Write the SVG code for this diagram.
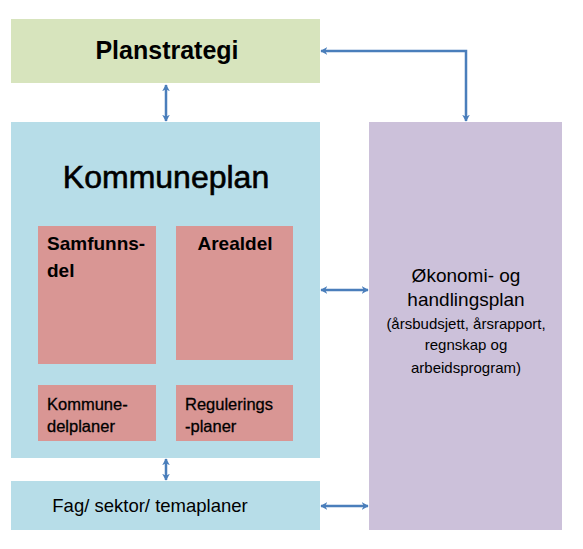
<svg xmlns="http://www.w3.org/2000/svg" width="583" height="549" viewBox="0 0 583 549">
<defs>
<style>
text{font-family:"Liberation Sans",Arial,sans-serif;fill:#000}
.b{font-weight:bold}
.c{stroke:#4a7ebb;stroke-width:2.5;fill:none}
</style>
<marker id="ah" viewBox="0 0 10 12" refX="9" refY="6" markerWidth="7" markerHeight="10" orient="auto-start-reverse" markerUnits="userSpaceOnUse">
<path d="M0,0.5 L10,6 L0,11.5 L3,6 Z" fill="#4a7ebb"/>
</marker>
</defs>
<rect width="583" height="549" fill="#fff"/>
<g id="planstrategi">
<rect x="11" y="19" width="309" height="64" fill="#d7e4bd"/>
<text x="167" y="59" font-size="25" class="b" text-anchor="middle">Planstrategi</text>
</g>
<g id="kommuneplan">
<rect x="11" y="122" width="309" height="336" fill="#b7dde8"/>
<text x="166" y="188" font-size="32" text-anchor="middle" stroke="#000" stroke-width="0.6">Kommuneplan</text>
</g>
<g id="samfunnsdel">
<rect x="38" y="226" width="118" height="138" fill="#d99694"/>
<text x="47" y="250" font-size="19" class="b">Samfunns-</text>
<text x="47" y="277" font-size="19" class="b">del</text>
</g>
<g id="arealdel">
<rect x="176" y="226" width="117" height="134" fill="#d99694"/>
<text x="235" y="250" font-size="19" class="b" text-anchor="middle">Arealdel</text>
</g>
<g id="kommunedelplaner">
<rect x="38" y="385" width="118" height="56" fill="#d99694"/>
<text x="47" y="410" font-size="16.5" stroke="#000" stroke-width="0.3">Kommune-</text>
<text x="47" y="432" font-size="16.5" stroke="#000" stroke-width="0.3">delplaner</text>
</g>
<g id="reguleringsplaner">
<rect x="176" y="385" width="117" height="56" fill="#d99694"/>
<text x="185" y="410" font-size="16.5" stroke="#000" stroke-width="0.3">Regulerings</text>
<text x="185" y="432" font-size="16.5" stroke="#000" stroke-width="0.3">-planer</text>
</g>
<g id="fag">
<rect x="11" y="481" width="309" height="49" fill="#b7dde8"/>
<text x="150" y="512" font-size="18.5" text-anchor="middle">Fag/ sektor/ temaplaner</text>
</g>
<g id="okonomi">
<rect x="369" y="122" width="193" height="408" fill="#ccc1da"/>
<text x="466" y="282" font-size="19" text-anchor="middle">Økonomi- og</text>
<text x="466" y="306" font-size="19" text-anchor="middle">handlingsplan</text>
<text x="466" y="329" font-size="15" text-anchor="middle">(årsbudsjett, årsrapport,</text>
<text x="466" y="350" font-size="15" text-anchor="middle">regnskap og</text>
<text x="466" y="373" font-size="15" text-anchor="middle">arbeidsprogram)</text>
</g>
<g id="connectors">
<line class="c" x1="166" y1="85" x2="166" y2="121" marker-start="url(#ah)" marker-end="url(#ah)"/>
<path class="c" d="M321,51 H466 V121" marker-start="url(#ah)" marker-end="url(#ah)"/>
<line class="c" x1="321" y1="290" x2="368" y2="290" marker-start="url(#ah)" marker-end="url(#ah)"/>
<line class="c" x1="166" y1="459" x2="166" y2="480" marker-start="url(#ah)" marker-end="url(#ah)"/>
<line class="c" x1="321" y1="506" x2="368" y2="506" marker-start="url(#ah)" marker-end="url(#ah)"/>
</g>
</svg>
